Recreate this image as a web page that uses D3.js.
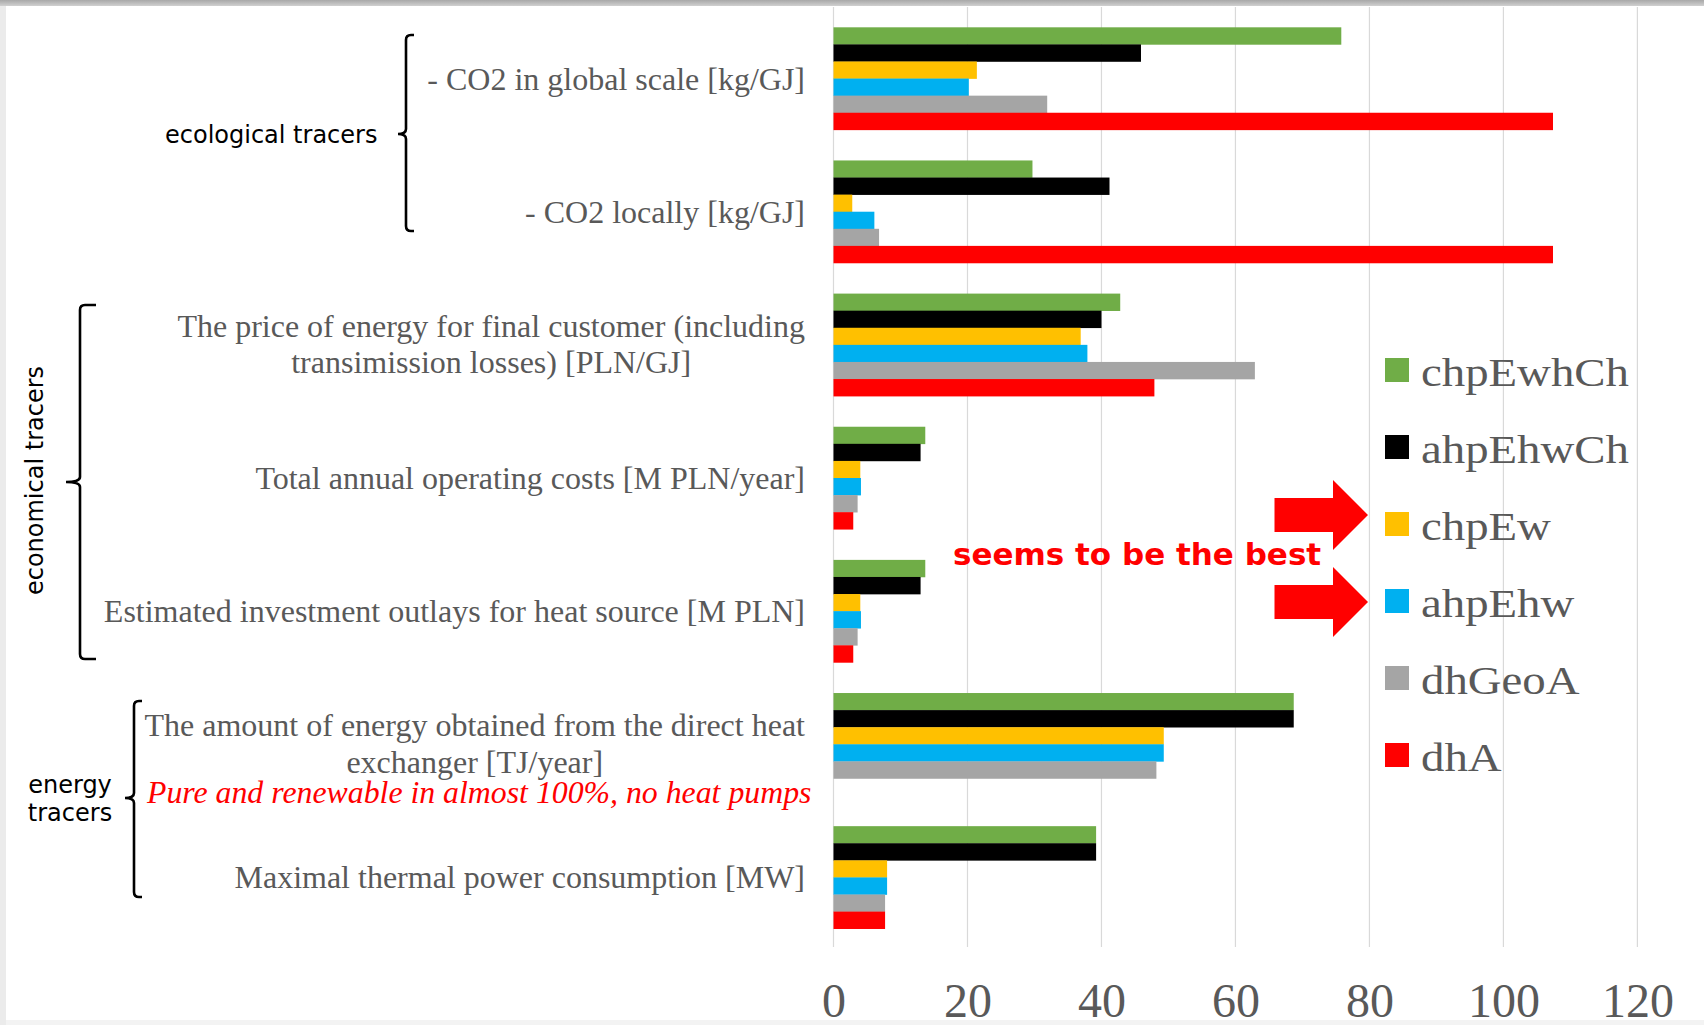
<!DOCTYPE html>
<html>
<head>
<meta charset="utf-8">
<script src="https://cdn.jsdelivr.net/npm/d3@7/dist/d3.min.js"></script>
<style>
  html, body { margin: 0; padding: 0; background: #fff; }
  svg { display: block; }
</style>
</head>
<body>
<svg id="chart" width="1704" height="1025"></svg>
<script>
// Indicators compared for each heat-supply variant (multi-line labels split by "\n")
const categories = [
  "- CO2 in global scale [kg/GJ]",
  "- CO2 locally [kg/GJ]",
  "The price of energy for final customer (including\ntransimission losses) [PLN/GJ]",
  "Total annual operating costs [M PLN/year]",
  "Estimated investment outlays for heat source [M PLN]",
  "The amount of energy obtained from the direct heat\nexchanger [TJ/year]",
  "Maximal thermal power consumption [MW]"
];

const seriesNames = ["chpEwhCh", "ahpEhwCh", "chpEw", "ahpEhw", "dhGeoA", "dhA"];
const seriesColors = ["#70AD47", "#000000", "#FFC000", "#00B0F0", "#A5A5A5", "#FF0000"];

const chpEwhCh = [75.8, 29.7, 42.8, 13.7, 13.7, 68.7, 39.2];
const ahpEhwCh = [45.9, 41.2, 40.0, 13.0, 13.0, 68.7, 39.2];
const chpEw    = [21.4, 2.8, 36.9, 4.0, 4.0, 49.3, 8.0];
const ahpEhw   = [20.2, 6.1, 37.9, 4.1, 4.1, 49.3, 8.0];
const dhGeoA   = [31.9, 6.8, 62.9, 3.6, 3.6, 48.2, 7.7];
const dhA      = [107.4, 107.4, 47.9, 2.95, 2.95, 0, 7.7];

const xTicks = [0, 20, 40, 60, 80, 100, 120];

// Category groups shown with brackets on the left
const groupNames = ["ecological tracers", "economical tracers", "energy tracers"];

const seriesValues = [chpEwhCh, ahpEhwCh, chpEw, ahpEhw, dhGeoA, dhA];
const rows = categories.map((c, i) => ({
  label: c,
  values: seriesNames.map((s, j) => ({ series: s, color: seriesColors[j], value: seriesValues[j][i] }))
}));

const svg = d3.select("#chart");

// Page frame: grey strip along the top edge, pale strips left and bottom
const frameGrad = svg.append("defs").append("linearGradient")
  .attr("id", "topband").attr("x1", 0).attr("x2", 0).attr("y1", 0).attr("y2", 1);
frameGrad.append("stop").attr("offset", "0%").attr("stop-color", "#a8a8a8");
frameGrad.append("stop").attr("offset", "100%").attr("stop-color", "#d0d0d0");
svg.append("rect").attr("x", 0).attr("y", 0).attr("width", 1704).attr("height", 6).attr("fill", "url(#topband)");
svg.append("rect").attr("x", 0).attr("y", 6).attr("width", 6).attr("height", 1019).attr("fill", "#ebebeb");
svg.append("rect").attr("x", 6).attr("y", 1020).attr("width", 1698).attr("height", 5).attr("fill", "#f3f3f3");

// Scales
const x = d3.scaleLinear().domain([0, 120]).range([833.5, 1637.4]);
const y = d3.scaleBand().domain(d3.range(categories.length)).range([12, 944])
  .paddingInner(0.23).paddingOuter(0.115);
const ySub = d3.scaleBand().domain(seriesNames).range([0, y.bandwidth()]);

// Vertical gridlines
svg.append("g").selectAll("line").data(xTicks).join("line")
  .attr("x1", d => x(d)).attr("x2", d => x(d))
  .attr("y1", 7).attr("y2", 947)
  .attr("stroke", "#d9d9d9").attr("stroke-width", 1.2);

// Tick labels
const xAxis = d3.axisBottom(x).tickValues(xTicks).tickSize(0).tickPadding(0);
const gx = svg.append("g").call(xAxis);
gx.select(".domain").remove();
gx.selectAll("text")
  .attr("y", 1016.5).attr("dy", null)
  .attr("font-family", "'Liberation Serif', 'Times New Roman', serif")
  .attr("font-size", 48).attr("fill", "#595959");

// Bars
const groups = svg.append("g").selectAll("g").data(rows).join("g")
  .attr("transform", (d, i) => `translate(0,${y(i)})`);
groups.selectAll("rect").data(d => d.values).join("rect")
  .attr("x", x(0))
  .attr("y", d => ySub(d.series))
  .attr("width", d => x(d.value) - x(0))
  .attr("height", ySub.bandwidth() + 0.3)
  .attr("fill", d => d.color);

// Category labels: right edge at the axis gutter, multi-line blocks centred
const labelRight = 805;
const labelFont = "'Liberation Serif', 'Times New Roman', serif";
rows.forEach((r, i) => {
  const lines = r.label.split("\n");
  const cy = y(i) + y.bandwidth() / 2;
  const t = svg.append("text")
    .attr("font-family", labelFont).attr("font-size", 32).attr("fill", "#595959");
  const firstBase = lines.length === 1 ? cy + 11 : cy - 8;
  lines.forEach((ln, k) => {
    t.append("tspan").attr("y", firstBase + k * 36.5).text(ln);
  });
  let maxW = 0;
  t.selectAll("tspan").each(function () { maxW = Math.max(maxW, this.getComputedTextLength()); });
  t.attr("text-anchor", "middle");
  t.selectAll("tspan").attr("x", labelRight - maxW / 2);
});

// Legend
const legend = svg.append("g").selectAll("g").data(seriesNames).join("g")
  .attr("transform", (d, i) => `translate(1385,${370 + i * 77})`);
legend.append("rect").attr("x", 0).attr("y", -12).attr("width", 24).attr("height", 24)
  .attr("fill", (d, i) => seriesColors[i]);
legend.append("text")
  .attr("transform", "translate(36,15.5) scale(1.17,1)")
  .attr("font-family", labelFont).attr("font-size", 40).attr("fill", "#595959")
  .text(d => d);

// Brackets grouping the indicators
function bracket(xv, top, bottom, mid, serif, tick) {
  const r = 5;
  return `M${xv + serif},${top} L${xv + r},${top} Q${xv},${top} ${xv},${top + r}` +
    ` L${xv},${mid - r} Q${xv},${mid} ${xv - tick},${mid}` +
    ` Q${xv},${mid} ${xv},${mid + r} L${xv},${bottom - r}` +
    ` Q${xv},${bottom} ${xv + r},${bottom} L${xv + serif},${bottom}`;
}
const brackets = [
  { x: 406, top: 35, bottom: 231, mid: 134, serif: 8, tick: 8 },
  { x: 80, top: 305, bottom: 659, mid: 482, serif: 16, tick: 14 },
  { x: 134, top: 701, bottom: 897, mid: 798, serif: 8, tick: 9 }
];
svg.append("g").selectAll("path").data(brackets).join("path")
  .attr("d", b => bracket(b.x, b.top, b.bottom, b.mid, b.serif, b.tick))
  .attr("fill", "none").attr("stroke", "#000").attr("stroke-width", 2.6);

const sansFont = "'DejaVu Sans', Verdana, sans-serif";
svg.append("text").attr("x", 165).attr("y", 142.5)
  .attr("font-family", sansFont).attr("font-size", 24).attr("fill", "#000")
  .text(groupNames[0]);
svg.append("text").attr("transform", "translate(43,480.5) rotate(-90)")
  .attr("text-anchor", "middle")
  .attr("font-family", sansFont).attr("font-size", 24).attr("fill", "#000")
  .text(groupNames[1]);
const energyText = svg.append("text").attr("text-anchor", "middle")
  .attr("font-family", sansFont).attr("font-size", 24).attr("fill", "#000");
groupNames[2].split(" ").forEach((w, k) => {
  energyText.append("tspan").attr("x", 70).attr("y", 793 + k * 28).text(w);
});

// Annotations
svg.append("text").attr("x", 147).attr("y", 803)
  .attr("font-family", labelFont).attr("font-style", "italic")
  .attr("font-size", 31.8).attr("fill", "#FF0000")
  .text("Pure and renewable in almost 100%, no heat pumps");

svg.append("text").attr("x", 953).attr("y", 565)
  .attr("font-family", sansFont).attr("font-weight", "bold")
  .attr("font-size", 31).attr("fill", "#FF0000")
  .text("seems to be the best");

function arrow(tipY) {
  const x0 = 1274.5, xs = 1333, xt = 1368;
  return `M${x0},${tipY - 17} L${xs},${tipY - 17} L${xs},${tipY - 35} L${xt},${tipY}` +
    ` L${xs},${tipY + 35} L${xs},${tipY + 17} L${x0},${tipY + 17} Z`;
}
svg.append("g").selectAll("path").data([515, 602]).join("path")
  .attr("d", d => arrow(d)).attr("fill", "#FF0000");
</script>
</body>
</html>
